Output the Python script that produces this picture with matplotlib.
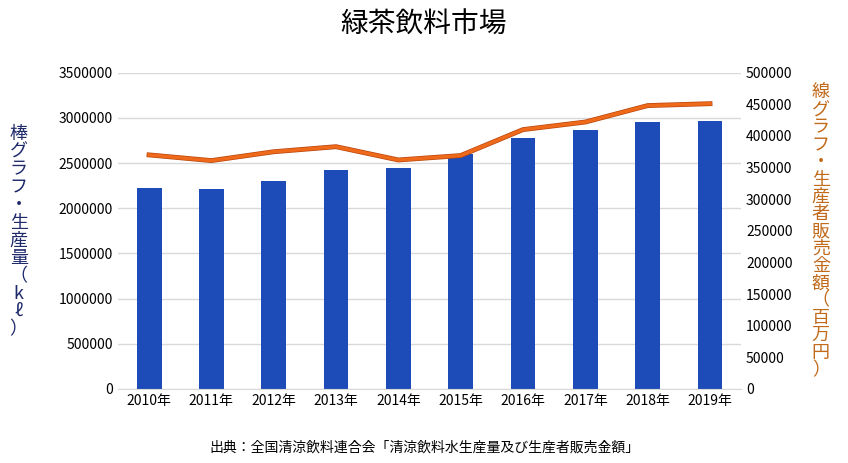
import matplotlib
matplotlib.use("Agg")
import matplotlib.pyplot as plt
import matplotlib.patheffects as pe
from matplotlib.ticker import FuncFormatter

years = ["2010年","2011年","2012年","2013年","2014年","2015年","2016年","2017年","2018年","2019年"]
production = [2226000, 2215000, 2300000, 2425000, 2450000, 2600000, 2780000, 2870000, 2950000, 2960000]
sales = [370000, 361000, 375000, 383000, 362000, 369000, 410000, 422000, 448000, 451000]

plt.rcParams["font.family"] = "Noto Sans CJK JP"
fig = plt.figure(figsize=(8.48, 4.63), dpi=100)
ax = fig.add_axes([0.139, 0.16, 0.735, 0.683])
x = range(len(years))
ax.bar(x, production, width=0.4, color="#1d4cb8", zorder=2)
ax.set_ylim(0, 3500000)
ax.set_yticks(range(0, 3500001, 500000))
ax.yaxis.set_major_formatter(FuncFormatter(lambda v, p: f"{int(v)}"))
ax.grid(axis="y", color="#d9d9d9", lw=1, zorder=0)
ax.set_xticks(list(x))
ax.set_xticklabels(years, fontsize=10)
ax.set_xlim(-0.5, len(years)-0.5)
for s in ["top", "right", "left"]:
    ax.spines[s].set_visible(False)
ax.spines["bottom"].set_color("#d9d9d9")
ax.tick_params(length=0, labelsize=10)

ax2 = ax.twinx()
ax2.plot(x, sales, color="#ee6a1a", lw=2.5, zorder=3,
         path_effects=[pe.Stroke(linewidth=3.5, foreground="#b8460e"), pe.Normal()])
ax2.set_ylim(0, 500000)
ax2.set_yticks(range(0, 500001, 50000))
for s in ax2.spines.values():
    s.set_visible(False)
ax2.tick_params(length=0, labelsize=10)

left_label = "棒グラフ・生産量（kℓ）"
right_label = "線グラフ・生産者販売金額（百万円）"
fig.text(0.022, 0.5, "\n".join(left_label), ha="center", va="center", fontsize=13,
         color="#1f2a6b", linespacing=0.98)
fig.text(0.968, 0.5, "\n".join(right_label), ha="center", va="center", fontsize=13,
         color="#c06a1a", linespacing=0.95)

fig.text(0.5, 0.93, "緑茶飲料市場", ha="center", fontsize=20)
fig.text(0.5, 0.025, "出典：全国清涼飲料連合会「清涼飲料水生産量及び生産者販売金額」", ha="center", fontsize=10)
fig.savefig("out.png", dpi=100)
